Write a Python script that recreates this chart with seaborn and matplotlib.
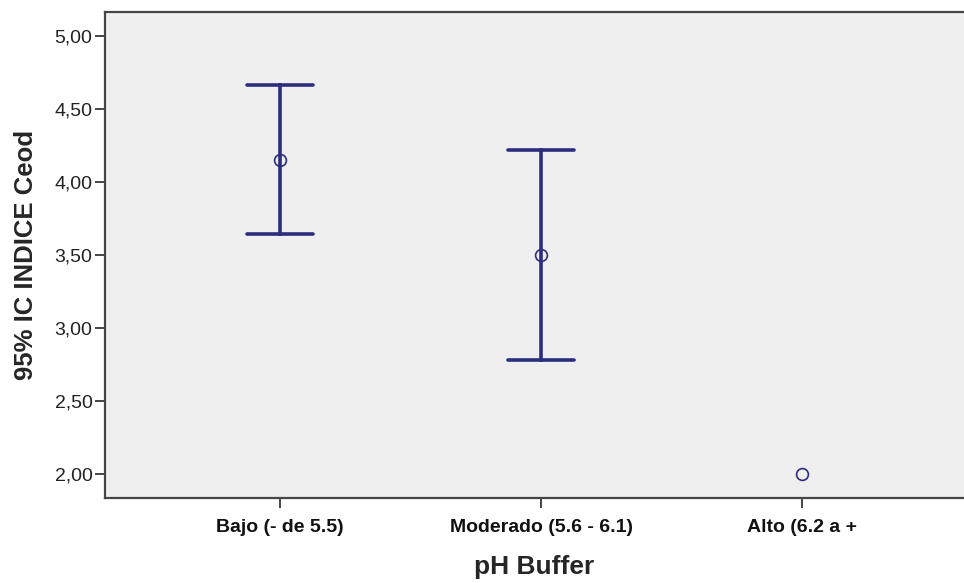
import pandas as pd
import seaborn as sns
import matplotlib.pyplot as plt
from matplotlib.ticker import FuncFormatter

categories = ["Bajo (- de 5.5)", "Moderado (5.6 - 6.1)", "Alto (6.2 a +"]
means = [4.15, 3.50, 2.00]
ci_low = [3.64, 2.78, None]
ci_high = [4.66, 4.22, None]

# long table: low / mean / high per group -> median gives the mean, min/max the CI
rows = []
for cat, m, lo, hi in zip(categories, means, ci_low, ci_high):
    for v in (lo, m, hi):
        if v is not None:
            rows.append({"ph": cat, "ceod": v})
df = pd.DataFrame(rows)

sns.set_style("white")
plt.rcParams["font.family"] = ["Liberation Sans", "DejaVu Sans"]

navy = "#2b2e7e"
fig = plt.figure(figsize=(9.64, 5.83), dpi=100)
ax = fig.add_axes([0.109, 0.146, 0.891, 0.833])
ax.set_facecolor("#efefef")

sns.pointplot(data=df, x="ph", y="ceod", order=categories,
              estimator="median", errorbar=lambda v: (v.min(), v.max()),
              color=navy, linestyle="none", marker="o", capsize=0.25,
              err_kws={"linewidth": 2.6}, markersize=8.5,
              markerfacecolor="none", markeredgewidth=1.2, ax=ax)

ax.set_xlim(-0.67, 2.62)
ax.set_ylim(1.836, 5.161)
ax.set_yticks([2.0, 2.5, 3.0, 3.5, 4.0, 4.5, 5.0])
ax.yaxis.set_major_formatter(FuncFormatter(lambda v, p: f"{v:.2f}".replace(".", ",")))

for s in ["left", "bottom", "top"]:
    ax.spines[s].set_color("#454545")
    ax.spines[s].set_linewidth(1.6)
ax.spines["right"].set_visible(False)

ax.tick_params(axis="both", direction="out", length=7, width=1.4,
               color="#454545", bottom=True, left=True)
ax.tick_params(axis="y", labelsize=14, labelcolor="#222222", pad=2)
ax.tick_params(axis="x", labelsize=14, labelcolor="#111111", pad=8)
for t in ax.get_xticklabels():
    t.set_fontweight("bold")

ax.set_xlabel("pH Buffer", fontsize=19, fontweight="bold", labelpad=14)
ax.set_ylabel("95% IC INDICE Ceod", fontsize=18.5, fontweight="bold", labelpad=12)

fig.savefig("out.png", dpi=100)
